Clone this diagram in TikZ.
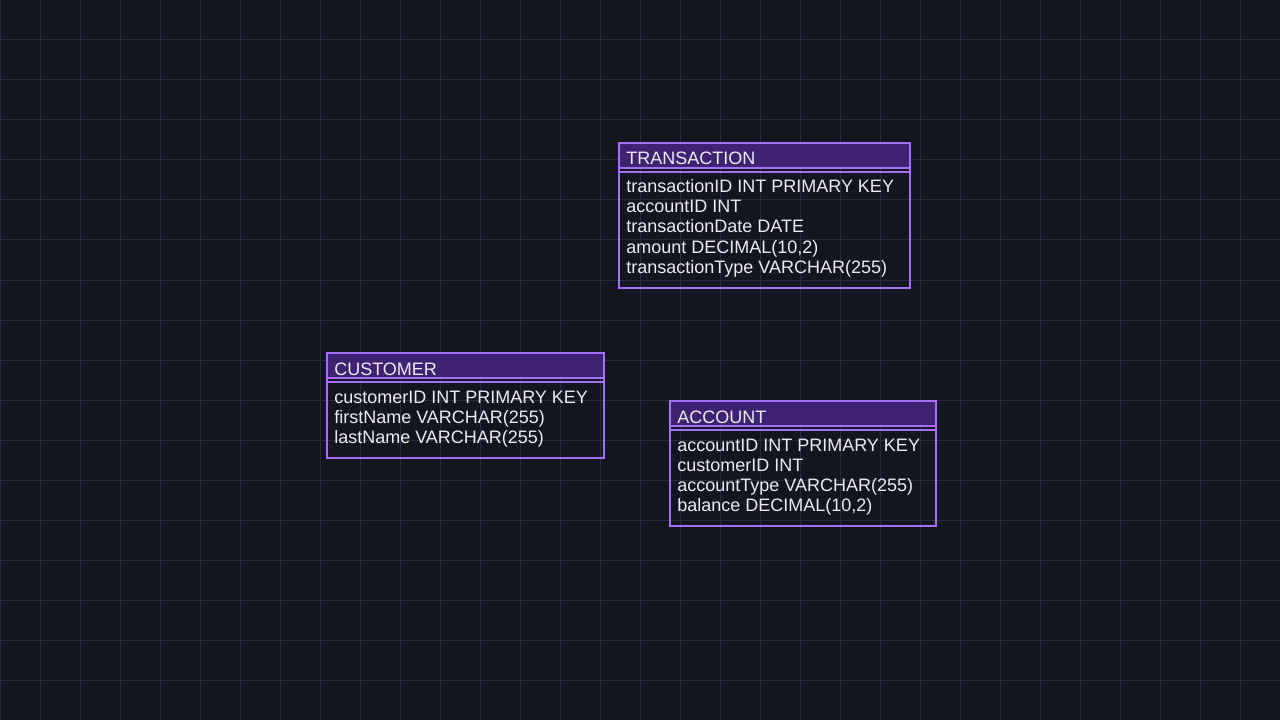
\documentclass[tikz,border=0pt]{standalone}
\usepackage{fontspec}
\setmainfont{Liberation Sans}

\definecolor{bgdark}{HTML}{13161F}
\definecolor{gridcol}{HTML}{282B3B}
\definecolor{tblborder}{HTML}{A370F7}
\definecolor{tblhead}{HTML}{3F2373}
\definecolor{tbltext}{HTML}{ECEAF2}

\tikzset{
  gridline/.style={gridcol, line width=0.75pt},
  tblframe/.style={draw=tblborder, line width=1.5pt},
  tbltitle/.style={anchor=base west, inner sep=0pt, text=tbltext},
  tblrow/.style={anchor=base west, inner sep=0pt, text=tbltext}
}

\begin{document}
\begin{tikzpicture}[x=0.75pt, y=-0.75pt, font=\fontsize{13.5}{15}\selectfont]
% Background
\fill[bgdark] (0,0) rectangle (1280,720);
\useasboundingbox (0,0) rectangle (1280,720);

% Grid
\foreach \gx in {0,40,...,1280}
    \draw[gridline] (\gx,0) -- (\gx,720);
\foreach \gy in {0,40,...,720}
    \draw[gridline] (0,\gy) -- (1280,\gy);

% TRANSACTION table
\fill[tblhead] (619,143) rectangle (910,168);
\draw[tblframe] (619,143) rectangle (910,288);
\draw[tblframe] (619,168) -- (910,168) (619,172) -- (910,172);
\node[tbltitle] (trans-title) at (626,165) {TRANSACTION};
\foreach \row [count=\i] in {transactionID INT PRIMARY KEY, accountID INT,
    transactionDate DATE, {amount DECIMAL(10,2)}, transactionType VARCHAR(255)}
    \node[tblrow] (trans-r\i) at (626,{173+20*\i}) {\row};

% CUSTOMER table
\fill[tblhead] (327,353) rectangle (604,378);
\draw[tblframe] (327,353) rectangle (604,458);
\draw[tblframe] (327,378) -- (604,378) (327,382) -- (604,382);
\node[tbltitle] (cust-title) at (334,375) {CUSTOMER};
\foreach \row [count=\i] in {customerID INT PRIMARY KEY, firstName VARCHAR(255),
    lastName VARCHAR(255)}
    \node[tblrow] (cust-r\i) at (334,{383+20*\i}) {\row};

% ACCOUNT table
\fill[tblhead] (670,401) rectangle (936,426);
\draw[tblframe] (670,401) rectangle (936,526);
\draw[tblframe] (670,426) -- (936,426) (670,430) -- (936,430);
\node[tbltitle] (acc-title) at (677,423) {ACCOUNT};
\foreach \row [count=\i] in {accountID INT PRIMARY KEY, customerID INT,
    accountType VARCHAR(255), {balance DECIMAL(10,2)}}
    \node[tblrow] (acc-r\i) at (677,{431+20*\i}) {\row};
\end{tikzpicture}
\end{document}
